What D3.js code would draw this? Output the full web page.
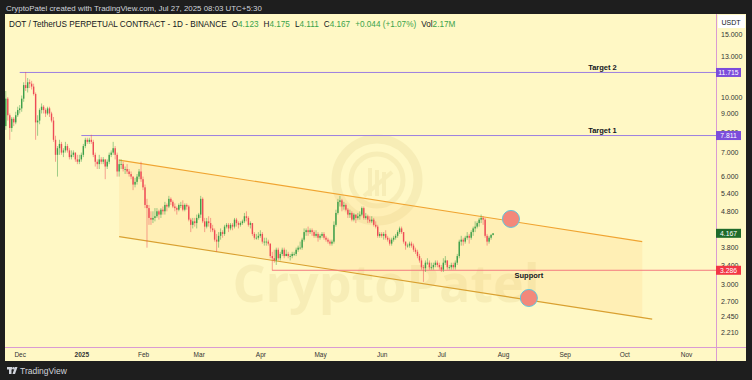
<!DOCTYPE html>
<html><head><meta charset="utf-8">
<script src="https://cdn.jsdelivr.net/npm/d3@7"></script>
<style>body{margin:0;background:#1e1e1e;} svg{display:block;font-family:"Liberation Sans",Arial,sans-serif;}</style>
</head><body><svg id="c" width="752" height="380"></svg>
<script>
// ---------- DATA ----------
const startDate = "2024-11-24";   // first daily candle
const firstOpen = 8.3;
const highs = [
 10.4,10.0,9.0,8.8,8.8,9.1,9.4,
 9.5,10.1,11.0,11.75,11.3,11.2,11.1,10.9,10.3,8.9,9.3,9.6,9.5,9.3,9.4,9.4,9.1,8.8,7.8,7.3,7.6,7.5,7.2,7.5,7.4,7.2,7.1,7.1,7.0,6.9,6.9,
 7.0,7.4,7.7,7.7,7.7,7.85,7.6,7.0,6.7,6.9,6.8,6.8,6.7,6.7,7.0,7.1,7.5,7.3,7.0,6.7,6.7,6.6,6.4,6.5,6.3,6.2,6.0,5.95,6.1,6.3,6.6,
 6.0,5.7,5.2,5.0,4.8,4.8,4.9,4.9,4.85,4.9,4.95,5.1,5.05,5.3,5.25,5.15,5.05,4.95,5.05,5.1,5.15,5.05,5.05,5.0,4.6,4.6,4.6,4.7,
 4.75,5.3,5.25,4.6,4.6,4.65,4.6,4.4,4.3,4.15,4.2,4.3,4.25,4.4,4.45,4.45,4.45,4.45,4.6,4.6,4.5,4.5,4.55,4.75,4.8,4.65,4.5,4.45,4.2,4.15,4.2,
 4.25,4.2,4.05,4.05,4.0,3.9,3.7,3.75,3.8,3.8,3.7,3.8,3.8,3.75,3.7,3.65,3.7,3.7,3.8,3.85,3.95,4.05,4.3,4.3,4.35,4.3,4.3,4.25,4.25,4.2,
 4.15,4.2,4.2,4.1,4.05,4.0,4.0,4.5,4.85,5.2,5.3,5.2,5.1,5.05,4.9,4.85,4.8,4.75,4.7,4.75,4.8,4.95,4.95,4.75,4.7,4.65,4.65,4.6,4.5,4.4,4.2,
 4.2,4.2,4.25,4.1,4.05,4.05,4.1,4.15,4.25,4.35,4.35,4.2,3.95,3.9,3.95,3.95,3.9,3.8,3.75,3.65,3.55,3.4,3.5,3.55,3.5,3.45,3.45,3.5,3.5,3.45,
 3.4,3.55,3.6,3.5,3.4,3.45,3.45,3.5,3.65,4.0,4.1,4.05,4.1,4.2,4.15,4.25,4.35,4.5,4.5,4.6,4.7,4.65,4.6,4.15,4.1,4.15,4.175
];
const lows = [
 8.1,8.6,7.6,8.0,8.3,8.4,8.8,
 9.0,9.1,9.7,10.4,10.3,10.6,10.5,10.1,7.6,7.8,8.4,9.0,9.0,8.8,8.9,8.8,8.5,7.5,6.6,6.0,6.9,6.9,6.8,7.0,7.0,6.7,6.7,6.8,6.6,6.5,6.5,
 6.6,6.8,7.2,7.4,7.4,7.4,6.8,6.4,6.3,6.3,6.5,6.5,5.9,6.3,6.5,6.8,6.9,6.7,6.0,6.0,6.3,6.2,6.1,6.1,6.0,5.9,5.5,5.6,5.7,5.9,5.8,
 5.5,4.9,3.8,4.4,4.4,4.45,4.5,4.6,4.55,4.6,4.7,4.7,4.8,4.9,5.0,4.9,4.8,4.7,4.8,4.9,4.8,4.8,4.85,4.5,4.2,4.3,4.35,4.3,
 4.55,4.6,4.45,4.2,4.3,4.35,4.2,4.2,3.95,3.7,3.8,4.0,4.05,4.1,4.3,4.2,4.25,4.25,4.3,4.35,4.3,4.35,4.4,4.45,4.5,4.35,4.3,4.1,4.0,4.0,4.0,
 4.05,3.9,3.85,3.85,3.85,3.55,3.28,3.45,3.4,3.5,3.5,3.6,3.55,3.6,3.55,3.5,3.55,3.6,3.6,3.7,3.75,3.75,3.95,4.1,4.1,4.15,4.1,4.05,4.05,3.95,
 4.0,4.05,4.0,3.95,3.9,3.85,3.85,3.9,4.35,4.7,4.95,4.8,4.85,4.8,4.6,4.6,4.5,4.5,4.45,4.55,4.55,4.65,4.55,4.55,4.45,4.45,4.45,4.35,4.3,4.05,4.05,
 4.05,4.0,4.0,3.95,3.85,3.85,3.95,4.0,4.05,4.15,4.15,3.9,3.75,3.8,3.8,3.8,3.7,3.65,3.55,3.45,3.3,3.05,3.25,3.4,3.3,3.3,3.3,3.35,3.35,3.3,
 3.25,3.25,3.4,3.3,3.3,3.3,3.3,3.3,3.4,3.55,3.85,3.85,3.9,4.0,3.9,4.0,4.1,4.2,4.3,4.35,4.45,4.4,4.05,3.85,3.9,4.0,4.111
];
const closes = [
 9.9,8.9,8.2,8.7,8.5,8.9,9.2,
 9.3,9.9,10.8,10.6,11.0,10.9,10.7,10.2,8.5,8.6,9.2,9.4,9.2,9.0,9.3,9.0,8.6,7.6,6.9,7.2,7.4,7.0,7.1,7.3,7.1,6.8,6.9,7.0,6.7,6.6,6.7,
 6.9,7.3,7.6,7.5,7.6,7.5,6.9,6.6,6.5,6.7,6.6,6.7,6.4,6.6,6.9,7.0,7.2,6.9,6.2,6.5,6.5,6.3,6.3,6.2,6.1,6.0,5.7,5.8,6.0,6.2,5.9,
 5.6,5.0,4.9,4.6,4.55,4.6,4.65,4.8,4.7,4.85,4.8,5.0,4.95,5.2,5.1,4.95,4.9,4.85,5.0,5.0,4.85,5.0,4.95,4.55,4.4,4.5,4.45,4.6,
 4.7,5.2,4.5,4.35,4.5,4.45,4.3,4.25,4.0,3.95,4.1,4.2,4.15,4.35,4.4,4.3,4.4,4.35,4.55,4.45,4.4,4.45,4.5,4.65,4.6,4.4,4.45,4.15,4.05,4.05,4.1,
 4.15,3.95,3.95,3.95,3.9,3.6,3.55,3.5,3.75,3.55,3.65,3.75,3.6,3.65,3.6,3.6,3.65,3.65,3.75,3.8,3.8,4.0,4.2,4.25,4.2,4.25,4.2,4.1,4.15,4.05,
 4.1,4.15,4.05,4.0,3.95,3.9,3.95,4.4,4.75,5.1,5.15,4.95,5.0,4.85,4.7,4.75,4.55,4.7,4.6,4.65,4.7,4.9,4.6,4.65,4.55,4.5,4.55,4.4,4.35,4.1,4.15,
 4.1,4.15,4.05,4.0,3.9,4.0,4.05,4.1,4.2,4.3,4.2,3.95,3.85,3.85,3.9,3.85,3.75,3.7,3.6,3.5,3.35,3.33,3.45,3.45,3.35,3.35,3.4,3.45,3.4,3.35,
 3.3,3.45,3.5,3.35,3.35,3.4,3.35,3.45,3.6,3.95,4.0,3.95,4.05,4.1,4.05,4.2,4.3,4.35,4.45,4.55,4.6,4.55,4.1,3.95,4.05,4.123,4.167
];
const priceTicks = [15, 13, 10, 9, 8, 7, 6, 5.4, 4.8, 3.8, 3.4, 3.0, 2.7, 2.45, 2.21];
const monthTicks = ["2024-12-01","2025-01-01","2025-02-01","2025-03-01","2025-04-01","2025-05-01","2025-06-01","2025-07-01","2025-08-01","2025-09-01","2025-10-01","2025-11-01"];
const monthLabels = ["Dec","2025","Feb","Mar","Apr","May","Jun","Jul","Aug","Sep","Oct","Nov"];
const targetLevels = [ {name:"Target 2", price:11.715, from:"2024-12-01"}, {name:"Target 1", price:7.811, from:"2025-01-01"} ];
const supportLevel = {name:"Support", price:3.286, from:"2025-04-07"};
const lastPrice = 4.167;
const channelUpper = [["2025-01-20",6.67],["2025-10-10",3.95]];
const channelLower = [["2025-01-20",4.08],["2025-10-15",2.40]];
const markers = [["2025-08-05",4.57],["2025-08-14",2.75]];
const header = {title:"DOT / TetherUS PERPETUAL CONTRACT - 1D - BINANCE", o:"4.123", h:"4.175", l:"4.111", c:"4.167", chg:"+0.044 (+1.07%)", vol:"2.17M"};

// ---------- SETUP ----------
const svg = d3.select("#c");
const W = 752, H = 380;
const pane = {x0:5, x1:716, y0:14, y1:347};
const bg = "#fff8c5";
const up = "#3d9f4a", dn = "#ee4b56";
const parse = d3.utcParse("%Y-%m-%d");

const x = d3.scaleUtc().domain([parse("2024-12-01"), parse("2025-11-01")]).range([19.7, 686]);
const y = d3.scaleLog().domain([15, 2.21]).range([34, 332]);

const t0 = parse(startDate);
const candles = closes.map((c,i)=>({
  date: d3.utcDay.offset(t0, i),
  o: i===0 ? firstOpen : closes[i-1], h: highs[i], l: lows[i], c: c
}));

svg.append("rect").attr("width",W).attr("height",H).attr("fill","#1e1e1e");
svg.append("rect").attr("x",5).attr("y",14).attr("width",741).attr("height",347).attr("fill",bg);

const defs = svg.append("defs");
defs.append("clipPath").attr("id","pc").append("rect")
  .attr("x",pane.x0).attr("y",pane.y0).attr("width",pane.x1-pane.x0).attr("height",pane.y1-pane.y0);
const g = svg.append("g").attr("clip-path","url(#pc)");

// ---------- WATERMARK ----------
const wm = g.append("g").attr("opacity",0.09).attr("fill","none").attr("stroke","#b08a2a");
wm.append("circle").attr("cx",377).attr("cy",180).attr("r",41).attr("stroke-width",9);
wm.append("circle").attr("cx",377).attr("cy",180).attr("r",26).attr("stroke-width",5);
[370,377,384].forEach((cx,i)=>wm.append("line").attr("x1",cx).attr("x2",cx).attr("y1",168+i*2).attr("y2",196).attr("stroke-width",4));
wm.append("path").attr("d","M364,196 L392,172").attr("stroke-width",4);
g.append("text").attr("x",386).attr("y",302).attr("text-anchor","middle")
  .attr("font-size",52).attr("font-weight","bold").attr("fill","#b08a2a").attr("opacity",0.09)
  .attr("font-family","'Open Sans',sans-serif").text("CryptoPatel");

// ---------- CHANNEL ----------
const P = d=>[x(parse(d[0])), y(d[1])];
const u0=P(channelUpper[0]), u1=P(channelUpper[1]), l0=P(channelLower[0]), l1=P(channelLower[1]);
const lowerAt = xx => l0[1] + (l1[1]-l0[1])*(xx-l0[0])/(l1[0]-l0[0]);
g.append("path").attr("d",`M${u0}L${u1}L${u1[0]},${lowerAt(u1[0])}L${l0}Z`)
  .attr("fill","#ffc064").attr("opacity",0.16);
g.append("line").attr("x1",u0[0]).attr("y1",u0[1]).attr("x2",u1[0]).attr("y2",u1[1]).attr("stroke","#f0a431").attr("stroke-width",1.1);
g.append("line").attr("x1",l0[0]).attr("y1",l0[1]).attr("x2",l1[0]).attr("y2",l1[1]).attr("stroke","#d9a030").attr("stroke-width",1.1);

// ---------- LEVELS ----------
targetLevels.forEach(t=>{
  g.append("line").attr("x1",x(parse(t.from))).attr("x2",pane.x1).attr("y1",y(t.price)).attr("y2",y(t.price))
    .attr("stroke","#9c7fe0").attr("stroke-width",1);
  g.append("text").attr("x",x(parse("2025-09-20"))).attr("y",y(t.price)-2.5).attr("text-anchor","middle")
    .attr("font-size",7.5).attr("font-weight","bold").attr("fill","#131722").text(t.name);
});
g.append("line").attr("x1",x(parse(supportLevel.from))).attr("x2",pane.x1).attr("y1",y(supportLevel.price)).attr("y2",y(supportLevel.price))
  .attr("stroke","#f47a7f").attr("stroke-width",1);
g.append("text").attr("x",x(parse("2025-08-14"))).attr("y",y(supportLevel.price)+8).attr("text-anchor","middle")
  .attr("font-size",7.5).attr("font-weight","bold").attr("fill","#131722").text(supportLevel.name);

// ---------- CANDLES ----------
const cg = g.append("g");
cg.selectAll("line.w").data(candles).join("line").attr("class","w")
  .attr("x1",d=>x(d.date)).attr("x2",d=>x(d.date)).attr("y1",d=>y(d.h)).attr("y2",d=>y(d.l))
  .attr("stroke",d=>d.c>=d.o?up:dn).attr("stroke-opacity",0.5).attr("stroke-width",1);
cg.selectAll("rect.b").data(candles).join("rect").attr("class","b")
  .attr("x",d=>x(d.date)-0.7).attr("width",1.4)
  .attr("y",d=>y(Math.max(d.o,d.c))).attr("height",d=>Math.max(0.8, Math.abs(y(d.o)-y(d.c))))
  .attr("fill",d=>d.c>=d.o?up:dn);

// ---------- MARKERS ----------
g.selectAll("circle.m").data(markers).join("circle").attr("class","m")
  .attr("cx",d=>P(d)[0]).attr("cy",d=>P(d)[1]).attr("r",8.5)
  .attr("fill","#f3887a").attr("stroke","#5cc6e0").attr("stroke-width",1);

// ---------- SEPARATORS ----------
svg.append("line").attr("x1",pane.x1+0.5).attr("x2",pane.x1+0.5).attr("y1",14).attr("y2",361).attr("stroke","#d99bd3").attr("stroke-width",1);
svg.append("line").attr("x1",5).attr("x2",746).attr("y1",pane.y1+0.5).attr("y2",pane.y1+0.5).attr("stroke","#d99bd3").attr("stroke-width",1);

// ---------- PRICE AXIS ----------
const ya = svg.append("g").attr("transform",`translate(${pane.x1},0)`)
  .call(d3.axisRight(y).tickValues(priceTicks).tickSize(0).tickPadding(5).tickFormat(d3.format(".3f")));
ya.select(".domain").remove();
ya.selectAll("text").attr("font-size",7).attr("fill","#333").attr("font-family","'Liberation Sans',Arial,sans-serif");

svg.append("rect").attr("x",718).attr("y",15).attr("width",27).attr("height",13).attr("fill","#ffffff");
svg.append("text").attr("x",731).attr("y",24.5).attr("text-anchor","middle").attr("font-size",7).attr("fill","#131722").text("USDT");

const tags = [[targetLevels[0].price,"#7c4ddb"],[targetLevels[1].price,"#7c4ddb"],[lastPrice,"#1f6b2a"],[supportLevel.price,"#f23645"]];
tags.forEach(([p,col])=>{
  svg.append("rect").attr("x",716).attr("y",y(p)-4.5).attr("width",25).attr("height",9).attr("fill",col);
  svg.append("text").attr("x",728.5).attr("y",y(p)+2.5).attr("text-anchor","middle").attr("font-size",6.8).attr("fill","#fff").text(d3.format(".3f")(p));
});

// ---------- TIME AXIS ----------
const xa = svg.append("g").attr("transform",`translate(0,${pane.y1})`)
  .call(d3.axisBottom(x).tickValues(monthTicks.map(parse)).tickSize(0).tickPadding(5)
    .tickFormat((d,i)=>monthLabels[i]));
xa.select(".domain").remove();
xa.selectAll("text").attr("font-size",6.5).attr("fill","#333").attr("font-weight",(d,i)=>monthLabels[i]==="2025"?"bold":"normal");

// ---------- HEADER ----------
svg.append("text").attr("x",6).attr("y",10.5).attr("font-size",7.9).attr("fill","#d1d4dc")
  .text("CryptoPatel created with TradingView.com, Jul 27, 2025 08:03 UTC+5:30");
const ht = svg.append("text").attr("x",9).attr("y",26.5).attr("font-size",8.2).attr("fill","#131722");
ht.append("tspan").text(header.title);
const green = "#3aa34a";
[["O",header.o],["H",header.h],["L",header.l],["C",header.c]].forEach(([k,v])=>{
  ht.append("tspan").attr("dx",5).text(k);
  ht.append("tspan").attr("fill",green).text(v);
});
ht.append("tspan").attr("dx",5).attr("fill",green).text(header.chg);
ht.append("tspan").attr("dx",5).text("Vol");
ht.append("tspan").attr("fill",green).text(header.vol);

// ---------- FOOTER ----------
const lg = svg.append("g").attr("fill","#d1d4dc");
lg.append("rect").attr("x",7).attr("y",367).attr("width",5).attr("height",2.5);
lg.append("rect").attr("x",9).attr("y",367).attr("width",2.5).attr("height",7);
lg.append("circle").attr("cx",13.5).attr("cy",368.3).attr("r",1.3);
lg.append("path").attr("d","M15,367 L17.5,367 L15,374 L12.5,374 Z");
svg.append("text").attr("x",20).attr("y",373.5).attr("font-size",8.5).attr("fill","#d1d4dc").text("TradingView");
</script></body></html>
